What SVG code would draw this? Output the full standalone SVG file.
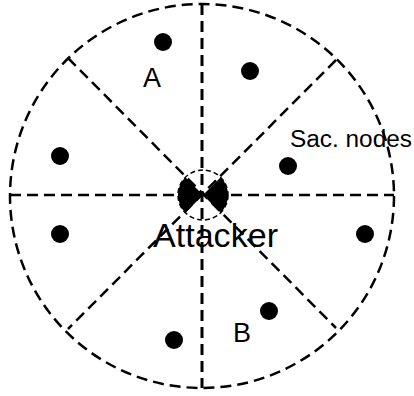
<svg xmlns="http://www.w3.org/2000/svg" width="414" height="396" viewBox="0 0 414 396">
<style>
.d{fill:none;stroke:#000;stroke-width:2.5;stroke-dasharray:11 6}
.v{stroke-width:3}
.n{fill:#000}
.t{font-family:"Liberation Sans",Arial,sans-serif;fill:#000}
</style>
<rect width="414" height="396" fill="#fff"/>
<g id="connectors">
<circle class="d" cx="202" cy="196" r="192"/>
<line class="d v" x1="202" y1="4" x2="202" y2="388"/>
<line class="d" x1="10" y1="195" x2="394" y2="195"/>
<line class="d" x1="68" y1="58" x2="336" y2="328"/>
<line class="d" x1="336" y1="60" x2="68" y2="329"/>
</g>
<g id="attacker">
<circle cx="203" cy="195" r="25" fill="none" stroke="#000" stroke-width="1.5" stroke-dasharray="5 3"/>
<path class="n" d="M203 195 L185.3 177.3 A25 25 0 0 0 185.3 212.7 Z"/>
<path class="n" d="M203 195 L220.7 177.3 A25 25 0 0 1 220.7 212.7 Z"/>
<text class="t" x="153" y="247" font-size="33" textLength="125" lengthAdjust="spacingAndGlyphs">Attacker</text>
</g>
<g id="nodes">
<circle class="n" cx="163" cy="42" r="9"/>
<circle class="n" cx="250" cy="71" r="9"/>
<circle class="n" cx="60" cy="156" r="9"/>
<circle class="n" cx="288" cy="166" r="9"/>
<circle class="n" cx="60" cy="234" r="9"/>
<circle class="n" cx="365" cy="234" r="9"/>
<circle class="n" cx="269" cy="311" r="9"/>
<circle class="n" cx="174" cy="340" r="9"/>
</g>
<g id="labels">
<text class="t" x="143" y="87" font-size="27">A</text>
<text class="t" x="233" y="342" font-size="27">B</text>
<text class="t" x="290" y="147" font-size="23" textLength="122" lengthAdjust="spacingAndGlyphs">Sac. nodes</text>
</g>
</svg>
